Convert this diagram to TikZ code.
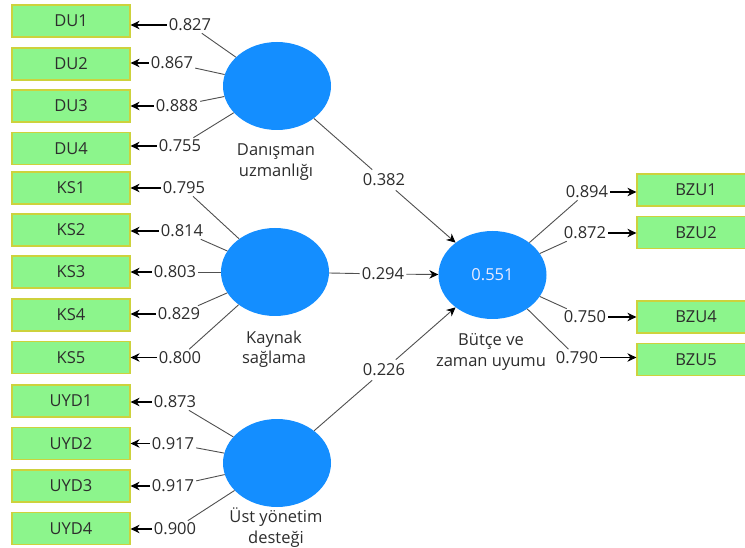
\documentclass[tikz,border=0pt]{standalone}
\usepackage{fontspec}
\setmainfont{Open Sans}
\usetikzlibrary{shapes.geometric,arrows.meta}
\definecolor{boxfill}{RGB}{140,245,140}
\definecolor{boxline}{RGB}{205,210,60}
\definecolor{lvblue}{RGB}{20,142,255}
\definecolor{txt}{RGB}{45,45,45}
\definecolor{lnk}{RGB}{80,80,80}
\tikzset{
  ind/.style={rectangle,draw=boxline,fill=boxfill,line width=1.2pt,minimum width=118pt,minimum height=32pt,inner sep=0pt,text=txt,font=\fontsize{16.5}{20}\selectfont},
  lv/.style={ellipse,fill=lvblue,minimum width=108pt,minimum height=88pt,inner sep=0pt,text=white!92!blue,font=\fontsize{16.5}{20}\selectfont},
  lvname/.style={align=center,text=txt,font=\fontsize{16.5}{20.5}\selectfont,inner sep=0pt},
  val/.style={text=txt,font=\fontsize{16.5}{20}\selectfont,inner sep=2pt},
  link/.style={draw=lnk,line width=0.9pt},
  arr/.style={draw=black,line width=1.1pt,-{Stealth[length=9pt,width=8.5pt]}},
  parr/.style={draw=lnk,line width=0.9pt,-{Stealth[length=9pt,width=8.5pt,color=black]}}
}
\begin{document}
\begin{tikzpicture}[x=1pt,y=-1pt]
\clip (0,0) rectangle (745,548);
\fill[white] (0,0) rectangle (745,548);
% latent variables
\node[lv] (du) at (277,86) {};
\node[lv] (ks) at (275,272) {};
\node[lv] (uyd) at (277,463) {};
\node[lv] (bzu) at (492.5,275) {0.551};
\node[lvname] at (276,162) {Danışman\\uzmanlığı};
\node[lvname] at (274,349) {Kaynak\\sağlama};
\node[lvname] at (276,527.5) {Üst yönetim\\desteği};
\node[lvname] at (491,352) {Bütçe ve\\zaman uyumu};
% indicators left
\node[ind] (du1) at (71,21) {DU1};
\node[ind] (du2) at (71,64) {DU2};
\node[ind] (du3) at (71,106) {DU3};
\node[ind] (du4) at (71,148.5) {DU4};
\node[ind] (ks1) at (71,188) {KS1};
\node[ind] (ks2) at (71,230) {KS2};
\node[ind] (ks3) at (71,272) {KS3};
\node[ind] (ks4) at (71,315) {KS4};
\node[ind] (ks5) at (71,357.5) {KS5};
\node[ind] (uyd1) at (71,401) {UYD1};
\node[ind] (uyd2) at (71,443.5) {UYD2};
\node[ind] (uyd3) at (71,486) {UYD3};
\node[ind] (uyd4) at (71,528.5) {UYD4};
% indicators right
\node[ind] (bzu1) at (696,190) {BZU1};
\node[ind] (bzu2) at (696,232.5) {BZU2};
\node[ind] (bzu4) at (696,317) {BZU4};
\node[ind] (bzu5) at (696,359.5) {BZU5};
% loading labels
\node[val] (l1) at (190,25) {0.827};
\node[val] (l2) at (172,63) {0.867};
\node[val] (l3) at (177,106) {0.888};
\node[val] (l4) at (180,146) {0.755};
\node[val] (l5) at (184,188) {0.795};
\node[val] (l6) at (182,231) {0.814};
\node[val] (l7) at (175,272) {0.803};
\node[val] (l8) at (179,314) {0.829};
\node[val] (l9) at (180,357.5) {0.800};
\node[val] (l10) at (175,402) {0.873};
\node[val] (l11) at (173,443.5) {0.917};
\node[val] (l12) at (173,486) {0.917};
\node[val] (l13) at (175,529) {0.900};
\node[val] (r1) at (587,192) {0.894};
\node[val] (r2) at (585,233) {0.872};
\node[val] (r4) at (585,317) {0.750};
\node[val] (r5) at (577,357.5) {0.790};
% path labels
\node[val,inner sep=4pt] (p1) at (384,180) {0.382};
\node[val,inner sep=2pt] (p2) at (383,274) {0.294};
\node[val,inner sep=4pt] (p3) at (384,370) {0.226};
% loadings left
\foreach \lv/\l/\b in {du/l1/du1,du/l2/du2,du/l3/du3,du/l4/du4,ks/l5/ks1,ks/l6/ks2,ks/l7/ks3,ks/l8/ks4,ks/l9/ks5,uyd/l10/uyd1,uyd/l11/uyd2,uyd/l12/uyd3,uyd/l13/uyd4}{
  \draw[link] (\lv) -- (\l);
  \draw[arr] (\l.west) -- (\l.west -| \b.east);
}
% loadings right
\foreach \l/\b in {r1/bzu1,r2/bzu2,r4/bzu4,r5/bzu5}{
  \draw[link] (bzu) -- (\l);
  \draw[arr] (\l.east) -- (\l.east -| \b.west);
}
% structural paths
\draw[link] (du) -- (p1);
\draw[parr] (p1) -- (bzu);
\draw[link] (ks) -- (p2);
\draw[parr] (p2) -- (bzu);
\draw[link] (uyd) -- (p3);
\draw[parr] (p3) -- (bzu);
\end{tikzpicture}
\end{document}
